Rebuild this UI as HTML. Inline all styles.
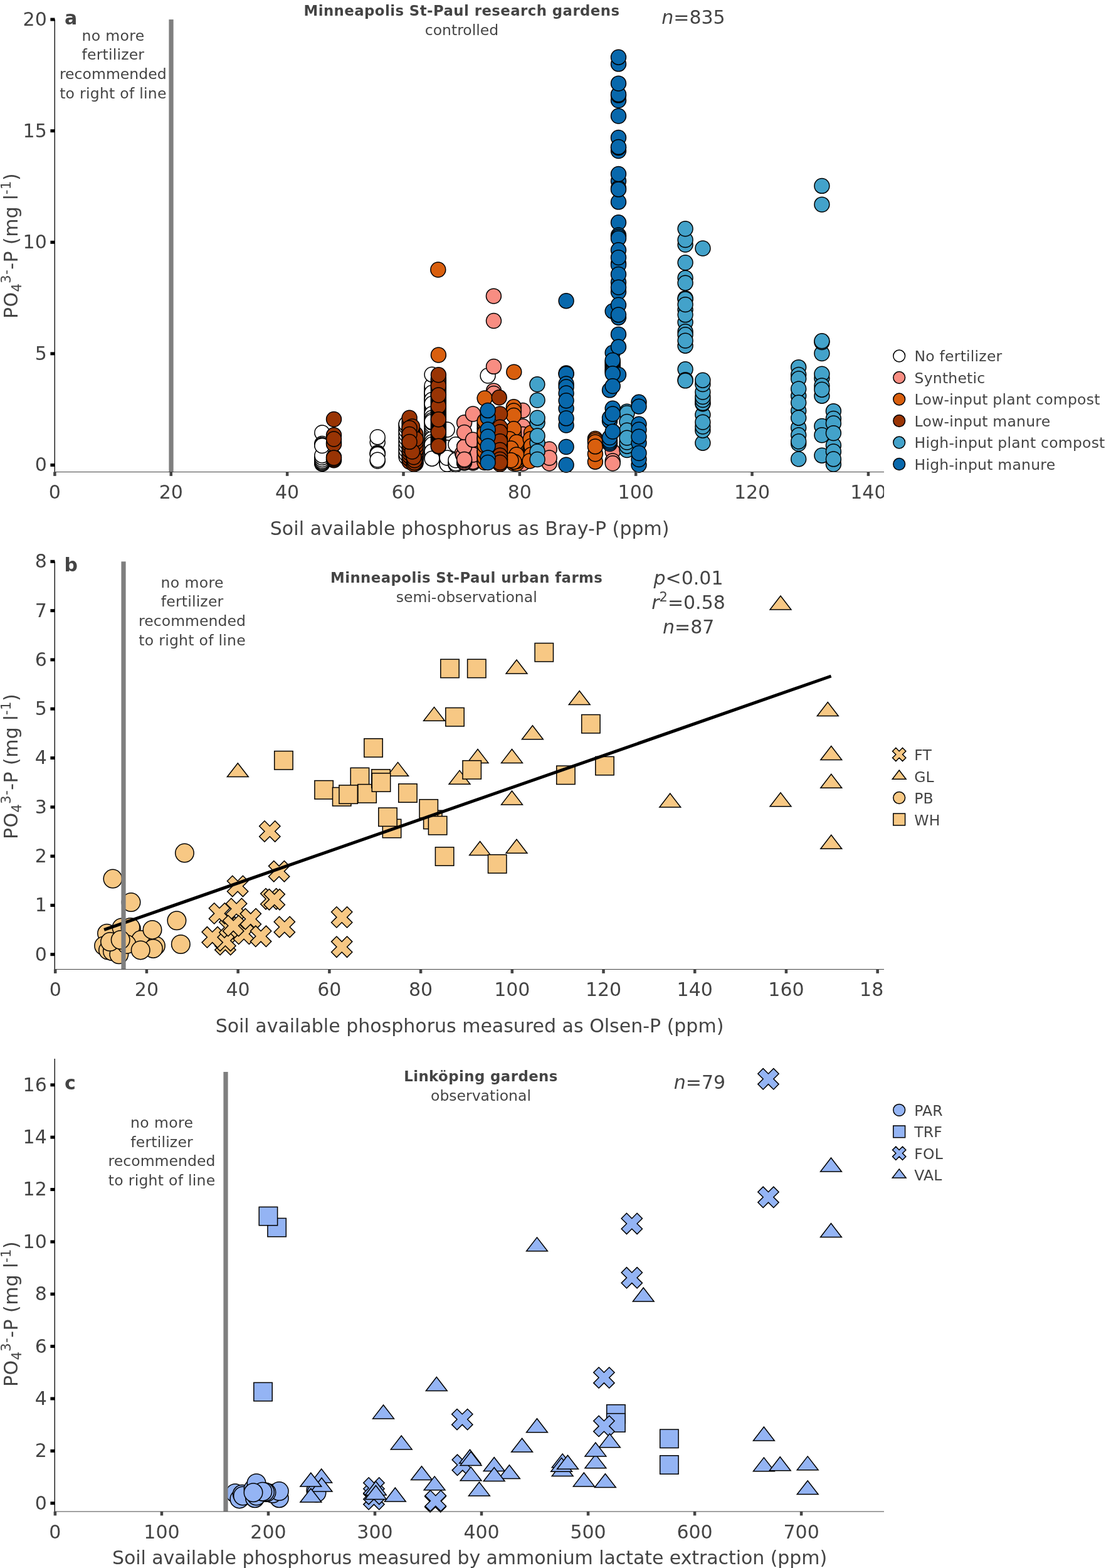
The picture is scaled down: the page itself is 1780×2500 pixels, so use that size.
<!DOCTYPE html>
<html lang="en"><head><meta charset="utf-8"><title>Soil available phosphorus vs leachate phosphate</title><style>html,body{margin:0;padding:0;background:#fff}body{width:1780px;height:2500px;overflow:hidden}</style></head><body>
<svg width="1780" height="2500" viewBox="0 0 1780 2500" font-family="'DejaVu Sans','Liberation Sans',sans-serif" style="display:block">
<rect width="1780" height="2500" fill="#fff"/>
<defs>
<clipPath id="clipa"><rect x="0" y="747.5" width="1410" height="80"/></clipPath>
<clipPath id="clipb"><rect x="0" y="1540.5" width="1410" height="80"/></clipPath>
<clipPath id="clipc"><rect x="0" y="2405" width="1410" height="80"/></clipPath>
</defs>
<g id="panel-a">
<g fill="#ffffff" stroke="#000" stroke-width="1.5">
<circle cx="689.0" cy="729.0" r="11.95"/>
<circle cx="689.0" cy="725.3" r="11.95"/>
<circle cx="689.0" cy="721.6" r="11.95"/>
<circle cx="689.0" cy="718.0" r="11.95"/>
<circle cx="689.0" cy="714.3" r="11.95"/>
<circle cx="689.0" cy="710.6" r="11.95"/>
<circle cx="689.0" cy="706.9" r="11.95"/>
<circle cx="689.0" cy="703.3" r="11.95"/>
<circle cx="689.0" cy="699.6" r="11.95"/>
<circle cx="689.0" cy="695.9" r="11.95"/>
<circle cx="689.0" cy="692.2" r="11.95"/>
<circle cx="689.0" cy="688.5" r="11.95"/>
<circle cx="689.0" cy="684.9" r="11.95"/>
<circle cx="689.0" cy="681.2" r="11.95"/>
<circle cx="689.0" cy="677.5" r="11.95"/>
<circle cx="689.0" cy="673.8" r="11.95"/>
<circle cx="689.0" cy="670.2" r="11.95"/>
<circle cx="689.0" cy="666.5" r="11.95"/>
<circle cx="689.0" cy="662.8" r="11.95"/>
<circle cx="689.0" cy="659.1" r="11.95"/>
<circle cx="689.0" cy="655.5" r="11.95"/>
<circle cx="689.0" cy="651.8" r="11.95"/>
<circle cx="689.0" cy="648.1" r="11.95"/>
<circle cx="689.0" cy="644.4" r="11.95"/>
<circle cx="689.0" cy="640.7" r="11.95"/>
<circle cx="689.0" cy="637.1" r="11.95"/>
<circle cx="689.0" cy="633.4" r="11.95"/>
<circle cx="689.0" cy="629.7" r="11.95"/>
<circle cx="689.0" cy="626.0" r="11.95"/>
<circle cx="689.0" cy="622.4" r="11.95"/>
<circle cx="689.0" cy="618.7" r="11.95"/>
<circle cx="689.0" cy="615.0" r="11.95"/>
<circle cx="648.2" cy="727.0" r="11.95"/>
<circle cx="648.2" cy="721.3" r="11.95"/>
<circle cx="648.2" cy="715.7" r="11.95"/>
<circle cx="648.2" cy="710.0" r="11.95"/>
<circle cx="648.2" cy="704.3" r="11.95"/>
<circle cx="648.2" cy="698.7" r="11.95"/>
<circle cx="648.2" cy="693.0" r="11.95"/>
<circle cx="648.2" cy="687.3" r="11.95"/>
<circle cx="648.2" cy="681.7" r="11.95"/>
<circle cx="648.2" cy="676.0" r="11.95"/>
<circle cx="713.1" cy="739.5" r="11.95"/>
<circle cx="713.1" cy="735.1" r="11.95"/>
<circle cx="713.1" cy="730.8" r="11.95"/>
<circle cx="713.1" cy="726.4" r="11.95"/>
<circle cx="713.1" cy="722.0" r="11.95"/>
<circle cx="726.9" cy="739.5" r="11.95"/>
<circle cx="726.9" cy="735.7" r="11.95"/>
<circle cx="726.9" cy="731.8" r="11.95"/>
<circle cx="726.9" cy="728.0" r="11.95"/>
<circle cx="513.8" cy="739.4" r="11.95"/>
<circle cx="513.8" cy="738.5" r="11.95"/>
<circle cx="513.8" cy="736.9" r="11.95"/>
<circle cx="513.8" cy="735.0" r="11.95"/>
<circle cx="513.8" cy="732.5" r="11.95"/>
<circle cx="513.8" cy="729.4" r="11.95"/>
<circle cx="513.8" cy="726.2" r="11.95"/>
<circle cx="513.8" cy="690.0" r="11.95"/>
<circle cx="513.8" cy="707.5" r="11.95"/>
<circle cx="513.8" cy="709.4" r="11.95"/>
<circle cx="513.8" cy="710.6" r="11.95"/>
<circle cx="602.2" cy="705.0" r="11.95"/>
<circle cx="602.2" cy="696.9" r="11.95"/>
<circle cx="602.2" cy="721.9" r="11.95"/>
<circle cx="602.2" cy="723.1" r="11.95"/>
<circle cx="602.2" cy="724.4" r="11.95"/>
<circle cx="602.2" cy="735.0" r="11.95"/>
<circle cx="602.2" cy="733.1" r="11.95"/>
<circle cx="648.1" cy="728.8" r="11.95"/>
<circle cx="648.1" cy="723.8" r="11.95"/>
<circle cx="648.1" cy="717.5" r="11.95"/>
<circle cx="648.1" cy="711.2" r="11.95"/>
<circle cx="648.1" cy="705.0" r="11.95"/>
<circle cx="648.1" cy="698.8" r="11.95"/>
<circle cx="648.1" cy="692.5" r="11.95"/>
<circle cx="648.1" cy="686.2" r="11.95"/>
<circle cx="648.1" cy="680.0" r="11.95"/>
<circle cx="648.1" cy="676.2" r="11.95"/>
<circle cx="689.0" cy="597.2" r="11.95"/>
<circle cx="689.0" cy="626.2" r="11.95"/>
<circle cx="689.0" cy="637.5" r="11.95"/>
<circle cx="689.0" cy="643.8" r="11.95"/>
<circle cx="689.0" cy="660.0" r="11.95"/>
<circle cx="689.0" cy="666.2" r="11.95"/>
<circle cx="689.0" cy="670.0" r="11.95"/>
<circle cx="689.0" cy="672.5" r="11.95"/>
<circle cx="689.0" cy="700.0" r="11.95"/>
<circle cx="689.0" cy="705.0" r="11.95"/>
<circle cx="689.0" cy="708.8" r="11.95"/>
<circle cx="689.0" cy="720.0" r="11.95"/>
<circle cx="689.0" cy="731.2" r="11.95"/>
<circle cx="713.1" cy="737.5" r="11.95"/>
<circle cx="713.1" cy="735.0" r="11.95"/>
<circle cx="713.1" cy="740.0" r="11.95"/>
<circle cx="713.1" cy="713.8" r="11.95"/>
<circle cx="713.1" cy="685.0" r="11.95"/>
<circle cx="713.1" cy="730.0" r="11.95"/>
<circle cx="726.9" cy="740.6" r="11.95"/>
<circle cx="726.9" cy="738.8" r="11.95"/>
<circle cx="726.9" cy="733.8" r="11.95"/>
<circle cx="726.9" cy="708.8" r="11.95"/>
<circle cx="778.1" cy="599.0" r="11.95"/>
</g>
<g fill="#f88d82" stroke="#000" stroke-width="1.5">
<circle cx="740.6" cy="738.0" r="11.95"/>
<circle cx="740.6" cy="733.7" r="11.95"/>
<circle cx="740.6" cy="729.3" r="11.95"/>
<circle cx="740.6" cy="725.0" r="11.95"/>
<circle cx="740.6" cy="720.7" r="11.95"/>
<circle cx="740.6" cy="716.3" r="11.95"/>
<circle cx="740.6" cy="712.0" r="11.95"/>
<circle cx="754.4" cy="738.0" r="11.95"/>
<circle cx="754.4" cy="732.5" r="11.95"/>
<circle cx="754.4" cy="727.0" r="11.95"/>
<circle cx="754.4" cy="721.5" r="11.95"/>
<circle cx="754.4" cy="716.0" r="11.95"/>
<circle cx="754.4" cy="736.2" r="11.95"/>
<circle cx="754.4" cy="725.0" r="11.95"/>
<circle cx="740.6" cy="736.9" r="11.95"/>
<circle cx="740.6" cy="734.4" r="11.95"/>
<circle cx="737.5" cy="722.5" r="11.95"/>
<circle cx="738.8" cy="726.2" r="11.95"/>
<circle cx="740.6" cy="712.5" r="11.95"/>
<circle cx="740.6" cy="673.8" r="11.95"/>
<circle cx="740.6" cy="689.4" r="11.95"/>
<circle cx="754.4" cy="701.2" r="11.95"/>
<circle cx="754.4" cy="660.0" r="11.95"/>
<circle cx="740.6" cy="732.5" r="11.95"/>
<circle cx="833.8" cy="654.4" r="11.95"/>
<circle cx="833.8" cy="680.0" r="11.95"/>
<circle cx="833.8" cy="692.5" r="11.95"/>
<circle cx="833.8" cy="717.5" r="11.95"/>
<circle cx="833.8" cy="738.8" r="11.95"/>
<circle cx="876.2" cy="716.2" r="11.95"/>
<circle cx="876.2" cy="738.8" r="11.95"/>
<circle cx="876.2" cy="730.0" r="11.95"/>
<circle cx="787.5" cy="511.5" r="11.95"/>
<circle cx="787.5" cy="584.4" r="11.95"/>
<circle cx="787.5" cy="623.1" r="11.95"/>
<circle cx="787.5" cy="627.5" r="11.95"/>
<circle cx="787.4" cy="472.1" r="11.95"/>
<circle cx="977.2" cy="720.0" r="11.95"/>
<circle cx="977.2" cy="735.0" r="11.95"/>
<circle cx="977.2" cy="738.8" r="11.95"/>
</g>
<g fill="#d95f0e" stroke="#000" stroke-width="1.5">
<circle cx="773.1" cy="736.0" r="11.95"/>
<circle cx="773.1" cy="731.4" r="11.95"/>
<circle cx="773.1" cy="726.8" r="11.95"/>
<circle cx="773.1" cy="722.2" r="11.95"/>
<circle cx="773.1" cy="717.5" r="11.95"/>
<circle cx="773.1" cy="712.9" r="11.95"/>
<circle cx="773.1" cy="708.3" r="11.95"/>
<circle cx="773.1" cy="703.7" r="11.95"/>
<circle cx="773.1" cy="699.1" r="11.95"/>
<circle cx="773.1" cy="694.5" r="11.95"/>
<circle cx="773.1" cy="689.8" r="11.95"/>
<circle cx="773.1" cy="685.2" r="11.95"/>
<circle cx="773.1" cy="680.6" r="11.95"/>
<circle cx="773.1" cy="676.0" r="11.95"/>
<circle cx="819.6" cy="739.0" r="11.95"/>
<circle cx="819.6" cy="735.9" r="11.95"/>
<circle cx="819.6" cy="732.9" r="11.95"/>
<circle cx="819.6" cy="729.8" r="11.95"/>
<circle cx="819.6" cy="726.8" r="11.95"/>
<circle cx="819.6" cy="723.7" r="11.95"/>
<circle cx="819.6" cy="720.6" r="11.95"/>
<circle cx="819.6" cy="717.6" r="11.95"/>
<circle cx="819.6" cy="714.5" r="11.95"/>
<circle cx="819.6" cy="711.4" r="11.95"/>
<circle cx="819.6" cy="708.4" r="11.95"/>
<circle cx="819.6" cy="705.3" r="11.95"/>
<circle cx="819.6" cy="702.2" r="11.95"/>
<circle cx="819.6" cy="699.2" r="11.95"/>
<circle cx="819.6" cy="696.1" r="11.95"/>
<circle cx="819.6" cy="693.1" r="11.95"/>
<circle cx="819.6" cy="690.0" r="11.95"/>
<circle cx="824.0" cy="739.0" r="11.95"/>
<circle cx="824.0" cy="735.2" r="11.95"/>
<circle cx="824.0" cy="731.4" r="11.95"/>
<circle cx="824.0" cy="727.7" r="11.95"/>
<circle cx="824.0" cy="723.9" r="11.95"/>
<circle cx="824.0" cy="720.1" r="11.95"/>
<circle cx="824.0" cy="716.3" r="11.95"/>
<circle cx="824.0" cy="712.6" r="11.95"/>
<circle cx="824.0" cy="708.8" r="11.95"/>
<circle cx="824.0" cy="705.0" r="11.95"/>
<circle cx="699.4" cy="566.0" r="11.95"/>
<circle cx="698.8" cy="430.0" r="11.95"/>
<circle cx="773.1" cy="737.5" r="11.95"/>
<circle cx="773.1" cy="730.0" r="11.95"/>
<circle cx="773.1" cy="720.0" r="11.95"/>
<circle cx="773.1" cy="710.0" r="11.95"/>
<circle cx="773.1" cy="700.0" r="11.95"/>
<circle cx="773.1" cy="690.0" r="11.95"/>
<circle cx="773.1" cy="671.2" r="11.95"/>
<circle cx="773.1" cy="635.0" r="11.95"/>
<circle cx="819.4" cy="648.8" r="11.95"/>
<circle cx="819.4" cy="655.0" r="11.95"/>
<circle cx="819.4" cy="662.5" r="11.95"/>
<circle cx="819.4" cy="683.8" r="11.95"/>
<circle cx="812.5" cy="700.0" r="11.95"/>
<circle cx="823.8" cy="705.0" r="11.95"/>
<circle cx="815.0" cy="715.0" r="11.95"/>
<circle cx="823.8" cy="725.0" r="11.95"/>
<circle cx="820.0" cy="736.2" r="11.95"/>
<circle cx="815.0" cy="733.8" r="11.95"/>
<circle cx="847.5" cy="690.0" r="11.95"/>
<circle cx="846.2" cy="700.0" r="11.95"/>
<circle cx="847.5" cy="711.2" r="11.95"/>
<circle cx="847.5" cy="725.0" r="11.95"/>
<circle cx="845.0" cy="735.0" r="11.95"/>
<circle cx="819.8" cy="593.1" r="11.95"/>
<circle cx="949.4" cy="736.2" r="11.95"/>
<circle cx="949.4" cy="723.8" r="11.95"/>
<circle cx="949.4" cy="699.4" r="11.95"/>
<circle cx="949.4" cy="701.9" r="11.95"/>
<circle cx="949.4" cy="705.0" r="11.95"/>
<circle cx="949.4" cy="711.9" r="11.95"/>
</g>
<g fill="#993404" stroke="#000" stroke-width="1.5">
<circle cx="699.4" cy="712.0" r="11.95"/>
<circle cx="699.4" cy="710.1" r="11.95"/>
<circle cx="699.4" cy="708.2" r="11.95"/>
<circle cx="699.4" cy="706.3" r="11.95"/>
<circle cx="699.4" cy="704.4" r="11.95"/>
<circle cx="699.4" cy="702.4" r="11.95"/>
<circle cx="699.4" cy="700.5" r="11.95"/>
<circle cx="699.4" cy="698.6" r="11.95"/>
<circle cx="699.4" cy="696.7" r="11.95"/>
<circle cx="699.4" cy="694.8" r="11.95"/>
<circle cx="699.4" cy="692.9" r="11.95"/>
<circle cx="699.4" cy="691.0" r="11.95"/>
<circle cx="699.4" cy="689.1" r="11.95"/>
<circle cx="699.4" cy="687.1" r="11.95"/>
<circle cx="699.4" cy="685.2" r="11.95"/>
<circle cx="699.4" cy="683.3" r="11.95"/>
<circle cx="699.4" cy="681.4" r="11.95"/>
<circle cx="699.4" cy="679.5" r="11.95"/>
<circle cx="699.4" cy="677.6" r="11.95"/>
<circle cx="699.4" cy="675.7" r="11.95"/>
<circle cx="699.4" cy="673.8" r="11.95"/>
<circle cx="699.4" cy="671.8" r="11.95"/>
<circle cx="699.4" cy="669.9" r="11.95"/>
<circle cx="699.4" cy="668.0" r="11.95"/>
<circle cx="699.4" cy="666.1" r="11.95"/>
<circle cx="699.4" cy="664.2" r="11.95"/>
<circle cx="699.4" cy="662.3" r="11.95"/>
<circle cx="699.4" cy="660.4" r="11.95"/>
<circle cx="699.4" cy="658.5" r="11.95"/>
<circle cx="699.4" cy="656.5" r="11.95"/>
<circle cx="699.4" cy="654.6" r="11.95"/>
<circle cx="699.4" cy="652.7" r="11.95"/>
<circle cx="699.4" cy="650.8" r="11.95"/>
<circle cx="699.4" cy="648.9" r="11.95"/>
<circle cx="699.4" cy="647.0" r="11.95"/>
<circle cx="699.4" cy="645.1" r="11.95"/>
<circle cx="699.4" cy="643.2" r="11.95"/>
<circle cx="699.4" cy="641.2" r="11.95"/>
<circle cx="699.4" cy="639.3" r="11.95"/>
<circle cx="699.4" cy="637.4" r="11.95"/>
<circle cx="699.4" cy="635.5" r="11.95"/>
<circle cx="699.4" cy="633.6" r="11.95"/>
<circle cx="699.4" cy="631.7" r="11.95"/>
<circle cx="699.4" cy="629.8" r="11.95"/>
<circle cx="699.4" cy="627.9" r="11.95"/>
<circle cx="699.4" cy="625.9" r="11.95"/>
<circle cx="699.4" cy="624.0" r="11.95"/>
<circle cx="699.4" cy="622.1" r="11.95"/>
<circle cx="699.4" cy="620.2" r="11.95"/>
<circle cx="699.4" cy="618.3" r="11.95"/>
<circle cx="699.4" cy="616.4" r="11.95"/>
<circle cx="699.4" cy="614.5" r="11.95"/>
<circle cx="699.4" cy="612.6" r="11.95"/>
<circle cx="699.4" cy="610.6" r="11.95"/>
<circle cx="699.4" cy="608.7" r="11.95"/>
<circle cx="699.4" cy="606.8" r="11.95"/>
<circle cx="699.4" cy="604.9" r="11.95"/>
<circle cx="699.4" cy="603.0" r="11.95"/>
<circle cx="662.8" cy="739.0" r="11.95"/>
<circle cx="662.8" cy="735.9" r="11.95"/>
<circle cx="662.8" cy="732.7" r="11.95"/>
<circle cx="662.8" cy="729.6" r="11.95"/>
<circle cx="662.8" cy="726.5" r="11.95"/>
<circle cx="662.8" cy="723.3" r="11.95"/>
<circle cx="662.8" cy="720.2" r="11.95"/>
<circle cx="662.8" cy="717.1" r="11.95"/>
<circle cx="662.8" cy="713.9" r="11.95"/>
<circle cx="662.8" cy="710.8" r="11.95"/>
<circle cx="662.8" cy="707.7" r="11.95"/>
<circle cx="662.8" cy="704.5" r="11.95"/>
<circle cx="662.8" cy="701.4" r="11.95"/>
<circle cx="662.8" cy="698.3" r="11.95"/>
<circle cx="662.8" cy="695.1" r="11.95"/>
<circle cx="662.8" cy="692.0" r="11.95"/>
<circle cx="657.5" cy="738.0" r="11.95"/>
<circle cx="657.5" cy="734.5" r="11.95"/>
<circle cx="657.5" cy="731.0" r="11.95"/>
<circle cx="657.5" cy="727.5" r="11.95"/>
<circle cx="657.5" cy="724.0" r="11.95"/>
<circle cx="657.5" cy="720.5" r="11.95"/>
<circle cx="657.5" cy="717.0" r="11.95"/>
<circle cx="657.5" cy="713.5" r="11.95"/>
<circle cx="657.5" cy="710.0" r="11.95"/>
<circle cx="657.5" cy="706.5" r="11.95"/>
<circle cx="657.5" cy="703.0" r="11.95"/>
<circle cx="657.5" cy="699.5" r="11.95"/>
<circle cx="657.5" cy="696.0" r="11.95"/>
<circle cx="657.5" cy="692.5" r="11.95"/>
<circle cx="657.5" cy="689.0" r="11.95"/>
<circle cx="657.5" cy="685.5" r="11.95"/>
<circle cx="657.5" cy="682.0" r="11.95"/>
<circle cx="653.1" cy="736.0" r="11.95"/>
<circle cx="653.1" cy="731.4" r="11.95"/>
<circle cx="653.1" cy="726.9" r="11.95"/>
<circle cx="653.1" cy="722.3" r="11.95"/>
<circle cx="653.1" cy="717.7" r="11.95"/>
<circle cx="653.1" cy="713.1" r="11.95"/>
<circle cx="653.1" cy="708.6" r="11.95"/>
<circle cx="653.1" cy="704.0" r="11.95"/>
<circle cx="653.1" cy="699.4" r="11.95"/>
<circle cx="653.1" cy="694.9" r="11.95"/>
<circle cx="653.1" cy="690.3" r="11.95"/>
<circle cx="653.1" cy="685.7" r="11.95"/>
<circle cx="653.1" cy="681.1" r="11.95"/>
<circle cx="653.1" cy="676.6" r="11.95"/>
<circle cx="653.1" cy="672.0" r="11.95"/>
<circle cx="797.5" cy="740.0" r="11.95"/>
<circle cx="797.5" cy="737.3" r="11.95"/>
<circle cx="797.5" cy="734.7" r="11.95"/>
<circle cx="797.5" cy="732.0" r="11.95"/>
<circle cx="797.5" cy="729.3" r="11.95"/>
<circle cx="797.5" cy="726.7" r="11.95"/>
<circle cx="797.5" cy="724.0" r="11.95"/>
<circle cx="797.5" cy="721.3" r="11.95"/>
<circle cx="797.5" cy="718.7" r="11.95"/>
<circle cx="797.5" cy="716.0" r="11.95"/>
<circle cx="797.5" cy="713.3" r="11.95"/>
<circle cx="797.5" cy="710.7" r="11.95"/>
<circle cx="797.5" cy="708.0" r="11.95"/>
<circle cx="797.5" cy="705.3" r="11.95"/>
<circle cx="797.5" cy="702.7" r="11.95"/>
<circle cx="797.5" cy="700.0" r="11.95"/>
<circle cx="532.5" cy="733.8" r="11.95"/>
<circle cx="532.5" cy="731.9" r="11.95"/>
<circle cx="532.5" cy="728.8" r="11.95"/>
<circle cx="532.5" cy="693.8" r="11.95"/>
<circle cx="532.5" cy="706.2" r="11.95"/>
<circle cx="532.5" cy="708.1" r="11.95"/>
<circle cx="532.5" cy="700.0" r="11.95"/>
<circle cx="532.5" cy="730.0" r="11.95"/>
<circle cx="532.5" cy="668.5" r="11.95"/>
<circle cx="663.1" cy="737.5" r="11.95"/>
<circle cx="663.1" cy="732.5" r="11.95"/>
<circle cx="663.1" cy="727.5" r="11.95"/>
<circle cx="663.1" cy="722.5" r="11.95"/>
<circle cx="663.1" cy="717.5" r="11.95"/>
<circle cx="663.1" cy="711.2" r="11.95"/>
<circle cx="663.1" cy="705.0" r="11.95"/>
<circle cx="663.1" cy="700.0" r="11.95"/>
<circle cx="660.0" cy="740.0" r="11.95"/>
<circle cx="661.2" cy="737.5" r="11.95"/>
<circle cx="661.2" cy="733.8" r="11.95"/>
<circle cx="660.0" cy="728.8" r="11.95"/>
<circle cx="657.5" cy="720.0" r="11.95"/>
<circle cx="653.1" cy="666.2" r="11.95"/>
<circle cx="657.5" cy="680.0" r="11.95"/>
<circle cx="653.1" cy="682.5" r="11.95"/>
<circle cx="653.1" cy="692.5" r="11.95"/>
<circle cx="653.1" cy="704.4" r="11.95"/>
<circle cx="699.4" cy="628.8" r="11.95"/>
<circle cx="699.4" cy="615.0" r="11.95"/>
<circle cx="699.4" cy="597.8" r="11.95"/>
<circle cx="699.4" cy="647.5" r="11.95"/>
<circle cx="699.4" cy="630.0" r="11.95"/>
<circle cx="699.4" cy="688.8" r="11.95"/>
<circle cx="699.4" cy="668.8" r="11.95"/>
<circle cx="699.4" cy="711.2" r="11.95"/>
<circle cx="796.2" cy="633.8" r="11.95"/>
<circle cx="797.5" cy="660.0" r="11.95"/>
<circle cx="797.5" cy="681.2" r="11.95"/>
<circle cx="797.5" cy="688.8" r="11.95"/>
<circle cx="797.5" cy="703.8" r="11.95"/>
<circle cx="797.5" cy="717.5" r="11.95"/>
<circle cx="797.5" cy="726.2" r="11.95"/>
<circle cx="797.5" cy="732.5" r="11.95"/>
<circle cx="797.5" cy="737.5" r="11.95"/>
</g>
<g fill="#43a2ca" stroke="#000" stroke-width="1.5">
<circle cx="857.1" cy="638.1" r="11.95"/>
<circle cx="857.1" cy="673.8" r="11.95"/>
<circle cx="857.1" cy="666.2" r="11.95"/>
<circle cx="857.1" cy="706.2" r="11.95"/>
<circle cx="857.1" cy="695.0" r="11.95"/>
<circle cx="857.1" cy="720.0" r="11.95"/>
<circle cx="857.1" cy="732.5" r="11.95"/>
<circle cx="856.9" cy="612.8" r="11.95"/>
<circle cx="1000.0" cy="717.5" r="11.95"/>
<circle cx="1000.0" cy="711.2" r="11.95"/>
<circle cx="1000.0" cy="705.0" r="11.95"/>
<circle cx="1000.0" cy="656.2" r="11.95"/>
<circle cx="1000.0" cy="658.8" r="11.95"/>
<circle cx="1000.0" cy="672.5" r="11.95"/>
<circle cx="1000.0" cy="686.2" r="11.95"/>
<circle cx="1000.0" cy="698.1" r="11.95"/>
<circle cx="1093.1" cy="390.0" r="11.95"/>
<circle cx="1093.1" cy="382.5" r="11.95"/>
<circle cx="1093.1" cy="364.8" r="11.95"/>
<circle cx="1093.1" cy="418.8" r="11.95"/>
<circle cx="1093.1" cy="443.1" r="11.95"/>
<circle cx="1093.1" cy="451.2" r="11.95"/>
<circle cx="1093.1" cy="475.6" r="11.95"/>
<circle cx="1093.1" cy="476.9" r="11.95"/>
<circle cx="1093.1" cy="513.8" r="11.95"/>
<circle cx="1093.1" cy="493.8" r="11.95"/>
<circle cx="1093.1" cy="501.9" r="11.95"/>
<circle cx="1093.1" cy="485.6" r="11.95"/>
<circle cx="1093.1" cy="551.2" r="11.95"/>
<circle cx="1093.1" cy="528.8" r="11.95"/>
<circle cx="1093.1" cy="533.8" r="11.95"/>
<circle cx="1093.1" cy="543.1" r="11.95"/>
<circle cx="1093.1" cy="588.8" r="11.95"/>
<circle cx="1093.1" cy="605.6" r="11.95"/>
<circle cx="1093.1" cy="606.9" r="11.95"/>
<circle cx="1121.0" cy="396.0" r="11.95"/>
<circle cx="1120.9" cy="706.2" r="11.95"/>
<circle cx="1120.9" cy="686.2" r="11.95"/>
<circle cx="1120.9" cy="680.0" r="11.95"/>
<circle cx="1120.9" cy="661.2" r="11.95"/>
<circle cx="1120.9" cy="673.1" r="11.95"/>
<circle cx="1120.9" cy="643.8" r="11.95"/>
<circle cx="1120.9" cy="642.5" r="11.95"/>
<circle cx="1120.9" cy="637.5" r="11.95"/>
<circle cx="1120.9" cy="632.5" r="11.95"/>
<circle cx="1120.9" cy="625.0" r="11.95"/>
<circle cx="1120.9" cy="612.5" r="11.95"/>
<circle cx="1120.9" cy="606.2" r="11.95"/>
<circle cx="1273.7" cy="585.6" r="11.95"/>
<circle cx="1273.7" cy="597.5" r="11.95"/>
<circle cx="1273.7" cy="603.8" r="11.95"/>
<circle cx="1273.7" cy="631.2" r="11.95"/>
<circle cx="1273.7" cy="620.0" r="11.95"/>
<circle cx="1273.7" cy="655.0" r="11.95"/>
<circle cx="1273.7" cy="641.9" r="11.95"/>
<circle cx="1273.7" cy="681.9" r="11.95"/>
<circle cx="1273.7" cy="666.2" r="11.95"/>
<circle cx="1273.7" cy="693.8" r="11.95"/>
<circle cx="1273.7" cy="707.5" r="11.95"/>
<circle cx="1273.7" cy="703.8" r="11.95"/>
<circle cx="1273.7" cy="731.9" r="11.95"/>
<circle cx="1310.9" cy="296.4" r="11.95"/>
<circle cx="1310.9" cy="326.1" r="11.95"/>
<circle cx="1310.9" cy="563.5" r="11.95"/>
<circle cx="1310.9" cy="545.6" r="11.95"/>
<circle cx="1310.9" cy="543.8" r="11.95"/>
<circle cx="1310.9" cy="603.1" r="11.95"/>
<circle cx="1310.9" cy="596.2" r="11.95"/>
<circle cx="1310.9" cy="615.0" r="11.95"/>
<circle cx="1310.9" cy="631.2" r="11.95"/>
<circle cx="1310.9" cy="621.2" r="11.95"/>
<circle cx="1310.9" cy="679.4" r="11.95"/>
<circle cx="1310.9" cy="693.8" r="11.95"/>
<circle cx="1310.9" cy="726.2" r="11.95"/>
<circle cx="1329.4" cy="655.6" r="11.95"/>
<circle cx="1329.4" cy="667.5" r="11.95"/>
<circle cx="1329.4" cy="675.0" r="11.95"/>
<circle cx="1329.4" cy="710.0" r="11.95"/>
<circle cx="1329.4" cy="690.6" r="11.95"/>
<circle cx="1329.4" cy="740.0" r="11.95"/>
<circle cx="1329.4" cy="720.0" r="11.95"/>
<circle cx="1329.4" cy="731.9" r="11.95"/>
</g>
<g fill="#0868ac" stroke="#000" stroke-width="1.5">
<circle cx="778.1" cy="665.6" r="11.95"/>
<circle cx="778.1" cy="654.4" r="11.95"/>
<circle cx="778.1" cy="685.0" r="11.95"/>
<circle cx="778.1" cy="696.2" r="11.95"/>
<circle cx="778.1" cy="711.2" r="11.95"/>
<circle cx="778.1" cy="730.0" r="11.95"/>
<circle cx="778.1" cy="737.5" r="11.95"/>
<circle cx="903.1" cy="479.7" r="11.95"/>
<circle cx="903.1" cy="595.0" r="11.95"/>
<circle cx="903.1" cy="596.2" r="11.95"/>
<circle cx="903.1" cy="612.0" r="11.95"/>
<circle cx="903.1" cy="616.9" r="11.95"/>
<circle cx="903.1" cy="627.0" r="11.95"/>
<circle cx="903.1" cy="651.2" r="11.95"/>
<circle cx="903.1" cy="638.8" r="11.95"/>
<circle cx="903.1" cy="678.1" r="11.95"/>
<circle cx="903.1" cy="666.9" r="11.95"/>
<circle cx="903.1" cy="712.5" r="11.95"/>
<circle cx="903.1" cy="741.2" r="11.95"/>
<circle cx="972.5" cy="707.5" r="11.95"/>
<circle cx="972.5" cy="705.0" r="11.95"/>
<circle cx="972.5" cy="702.5" r="11.95"/>
<circle cx="972.5" cy="697.5" r="11.95"/>
<circle cx="972.5" cy="671.2" r="11.95"/>
<circle cx="972.5" cy="666.2" r="11.95"/>
<circle cx="977.2" cy="651.2" r="11.95"/>
<circle cx="977.2" cy="660.0" r="11.95"/>
<circle cx="977.2" cy="688.1" r="11.95"/>
<circle cx="1019.0" cy="641.2" r="11.95"/>
<circle cx="1019.0" cy="648.1" r="11.95"/>
<circle cx="1019.0" cy="676.2" r="11.95"/>
<circle cx="1019.0" cy="685.0" r="11.95"/>
<circle cx="1019.0" cy="706.2" r="11.95"/>
<circle cx="1019.0" cy="696.2" r="11.95"/>
<circle cx="1019.0" cy="741.2" r="11.95"/>
<circle cx="1019.0" cy="732.5" r="11.95"/>
<circle cx="1019.0" cy="722.5" r="11.95"/>
<circle cx="986.5" cy="101.9" r="11.95"/>
<circle cx="986.5" cy="91.2" r="11.95"/>
<circle cx="986.5" cy="160.0" r="11.95"/>
<circle cx="986.5" cy="151.9" r="11.95"/>
<circle cx="986.5" cy="150.6" r="11.95"/>
<circle cx="986.5" cy="133.1" r="11.95"/>
<circle cx="986.5" cy="185.0" r="11.95"/>
<circle cx="986.5" cy="219.4" r="11.95"/>
<circle cx="986.5" cy="240.6" r="11.95"/>
<circle cx="986.5" cy="235.6" r="11.95"/>
<circle cx="986.5" cy="234.4" r="11.95"/>
<circle cx="986.5" cy="321.9" r="11.95"/>
<circle cx="986.5" cy="288.8" r="11.95"/>
<circle cx="986.5" cy="300.0" r="11.95"/>
<circle cx="986.5" cy="277.5" r="11.95"/>
<circle cx="986.5" cy="301.9" r="11.95"/>
<circle cx="986.5" cy="354.8" r="11.95"/>
<circle cx="986.5" cy="375.0" r="11.95"/>
<circle cx="986.5" cy="377.5" r="11.95"/>
<circle cx="986.5" cy="380.0" r="11.95"/>
<circle cx="986.5" cy="398.8" r="11.95"/>
<circle cx="986.5" cy="420.0" r="11.95"/>
<circle cx="986.5" cy="422.5" r="11.95"/>
<circle cx="986.5" cy="410.6" r="11.95"/>
<circle cx="986.5" cy="450.0" r="11.95"/>
<circle cx="986.5" cy="437.5" r="11.95"/>
<circle cx="986.5" cy="465.6" r="11.95"/>
<circle cx="986.5" cy="458.1" r="11.95"/>
<circle cx="977.2" cy="496.2" r="11.95"/>
<circle cx="986.5" cy="506.2" r="11.95"/>
<circle cx="986.5" cy="486.2" r="11.95"/>
<circle cx="986.5" cy="501.9" r="11.95"/>
<circle cx="986.5" cy="533.1" r="11.95"/>
<circle cx="977.2" cy="562.5" r="11.95"/>
<circle cx="986.5" cy="553.1" r="11.95"/>
<circle cx="977.2" cy="577.5" r="11.95"/>
<circle cx="977.2" cy="580.6" r="11.95"/>
<circle cx="977.2" cy="583.8" r="11.95"/>
<circle cx="977.2" cy="586.9" r="11.95"/>
<circle cx="977.2" cy="590.0" r="11.95"/>
<circle cx="977.2" cy="592.5" r="11.95"/>
<circle cx="977.2" cy="574.4" r="11.95"/>
<circle cx="986.5" cy="597.5" r="11.95"/>
<circle cx="977.2" cy="595.6" r="11.95"/>
<circle cx="972.5" cy="621.9" r="11.95"/>
<circle cx="977.2" cy="615.6" r="11.95"/>
</g>
<rect x="269.4" y="31.04" width="7.2" height="721.46" fill="#7f7f7f"/>
<rect x="86.6" y="31.04" width="1.3" height="721.96" fill="#000"/>
<rect x="87.25" y="752.0" width="1322.75" height="1" fill="#444"/>
<rect x="80.4" y="739.00" width="7" height="5" fill="#000"/>
<text x="74.75" y="751.45" font-size="30" text-anchor="end" fill="#444444">0</text>
<rect x="80.4" y="561.38" width="7" height="5" fill="#000"/>
<text x="74.75" y="573.84" font-size="30" text-anchor="end" fill="#444444">5</text>
<rect x="80.4" y="383.77" width="7" height="5" fill="#000"/>
<text x="74.75" y="396.22" font-size="30" text-anchor="end" fill="#444444">10</text>
<rect x="80.4" y="206.15" width="7" height="5" fill="#000"/>
<text x="74.75" y="218.6" font-size="30" text-anchor="end" fill="#444444">15</text>
<rect x="80.4" y="28.54" width="7" height="5" fill="#000"/>
<text x="74.75" y="40.99" font-size="30" text-anchor="end" fill="#444444">20</text>
<g clip-path="url(#clipa)">
<rect x="85.15" y="752.5" width="4.5" height="6.4" fill="#444"/>
<text x="87.4" y="795.1" font-size="30" text-anchor="middle" fill="#444444">0</text>
<rect x="270.51" y="752.5" width="4.5" height="6.4" fill="#444"/>
<text x="272.76" y="795.1" font-size="30" text-anchor="middle" fill="#444444">20</text>
<rect x="455.87" y="752.5" width="4.5" height="6.4" fill="#444"/>
<text x="458.12" y="795.1" font-size="30" text-anchor="middle" fill="#444444">40</text>
<rect x="641.23" y="752.5" width="4.5" height="6.4" fill="#444"/>
<text x="643.48" y="795.1" font-size="30" text-anchor="middle" fill="#444444">60</text>
<rect x="826.59" y="752.5" width="4.5" height="6.4" fill="#444"/>
<text x="828.84" y="795.1" font-size="30" text-anchor="middle" fill="#444444">80</text>
<rect x="1011.95" y="752.5" width="4.5" height="6.4" fill="#444"/>
<text x="1014.2" y="795.1" font-size="30" text-anchor="middle" fill="#444444">100</text>
<rect x="1197.31" y="752.5" width="4.5" height="6.4" fill="#444"/>
<text x="1199.56" y="795.1" font-size="30" text-anchor="middle" fill="#444444">120</text>
<rect x="1382.67" y="752.5" width="4.5" height="6.4" fill="#444"/>
<text x="1384.92" y="795.1" font-size="30" text-anchor="middle" fill="#444444">140</text>
</g>
</g>
<g id="panel-b">
<path d="M359.4,1514.4l8.32,8.32l8.32,-8.32l-8.32,-8.32l8.32,-8.32l-8.32,-8.32l-8.32,8.32l-8.32,-8.32l-8.32,8.32l8.32,8.32l-8.32,8.32l8.32,8.32Z" fill="#f7c884" stroke="#000" stroke-width="1.5"/>
<path d="M359.4,1508.0l8.32,8.32l8.32,-8.32l-8.32,-8.32l8.32,-8.32l-8.32,-8.32l-8.32,8.32l-8.32,-8.32l-8.32,8.32l8.32,8.32l-8.32,8.32l8.32,8.32Z" fill="#f7c884" stroke="#000" stroke-width="1.5"/>
<path d="M338.7,1502.6l8.32,8.32l8.32,-8.32l-8.32,-8.32l8.32,-8.32l-8.32,-8.32l-8.32,8.32l-8.32,-8.32l-8.32,8.32l8.32,8.32l-8.32,8.32l8.32,8.32Z" fill="#f7c884" stroke="#000" stroke-width="1.5"/>
<path d="M366.3,1486.8l8.32,8.32l8.32,-8.32l-8.32,-8.32l8.32,-8.32l-8.32,-8.32l-8.32,8.32l-8.32,-8.32l-8.32,8.32l8.32,8.32l-8.32,8.32l8.32,8.32Z" fill="#f7c884" stroke="#000" stroke-width="1.5"/>
<path d="M389.0,1497.2l8.32,8.32l8.32,-8.32l-8.32,-8.32l8.32,-8.32l-8.32,-8.32l-8.32,8.32l-8.32,-8.32l-8.32,8.32l8.32,8.32l-8.32,8.32l8.32,8.32Z" fill="#f7c884" stroke="#000" stroke-width="1.5"/>
<path d="M350.0,1464.7l8.32,8.32l8.32,-8.32l-8.32,-8.32l8.32,-8.32l-8.32,-8.32l-8.32,8.32l-8.32,-8.32l-8.32,8.32l8.32,8.32l-8.32,8.32l8.32,8.32Z" fill="#f7c884" stroke="#000" stroke-width="1.5"/>
<path d="M377.1,1457.3l8.32,8.32l8.32,-8.32l-8.32,-8.32l8.32,-8.32l-8.32,-8.32l-8.32,8.32l-8.32,-8.32l-8.32,8.32l8.32,8.32l-8.32,8.32l8.32,8.32Z" fill="#f7c884" stroke="#000" stroke-width="1.5"/>
<path d="M399.8,1473.5l8.32,8.32l8.32,-8.32l-8.32,-8.32l8.32,-8.32l-8.32,-8.32l-8.32,8.32l-8.32,-8.32l-8.32,8.32l8.32,8.32l-8.32,8.32l8.32,8.32Z" fill="#f7c884" stroke="#000" stroke-width="1.5"/>
<path d="M372.2,1484.4l8.32,8.32l8.32,-8.32l-8.32,-8.32l8.32,-8.32l-8.32,-8.32l-8.32,8.32l-8.32,-8.32l-8.32,8.32l8.32,8.32l-8.32,8.32l8.32,8.32Z" fill="#f7c884" stroke="#000" stroke-width="1.5"/>
<path d="M416.1,1501.1l8.32,8.32l8.32,-8.32l-8.32,-8.32l8.32,-8.32l-8.32,-8.32l-8.32,8.32l-8.32,-8.32l-8.32,8.32l8.32,8.32l-8.32,8.32l8.32,8.32Z" fill="#f7c884" stroke="#000" stroke-width="1.5"/>
<path d="M432.3,1441.5l8.32,8.32l8.32,-8.32l-8.32,-8.32l8.32,-8.32l-8.32,-8.32l-8.32,8.32l-8.32,-8.32l-8.32,8.32l8.32,8.32l-8.32,8.32l8.32,8.32Z" fill="#f7c884" stroke="#000" stroke-width="1.5"/>
<path d="M437.7,1442.5l8.32,8.32l8.32,-8.32l-8.32,-8.32l8.32,-8.32l-8.32,-8.32l-8.32,8.32l-8.32,-8.32l-8.32,8.32l8.32,8.32l-8.32,8.32l8.32,8.32Z" fill="#f7c884" stroke="#000" stroke-width="1.5"/>
<path d="M379.1,1421.3l8.32,8.32l8.32,-8.32l-8.32,-8.32l8.32,-8.32l-8.32,-8.32l-8.32,8.32l-8.32,-8.32l-8.32,8.32l8.32,8.32l-8.32,8.32l8.32,8.32Z" fill="#f7c884" stroke="#000" stroke-width="1.5"/>
<path d="M445.1,1397.5l8.32,8.32l8.32,-8.32l-8.32,-8.32l8.32,-8.32l-8.32,-8.32l-8.32,8.32l-8.32,-8.32l-8.32,8.32l8.32,8.32l-8.32,8.32l8.32,8.32Z" fill="#f7c884" stroke="#000" stroke-width="1.5"/>
<path d="M453.8,1486.3l8.32,8.32l8.32,-8.32l-8.32,-8.32l8.32,-8.32l-8.32,-8.32l-8.32,8.32l-8.32,-8.32l-8.32,8.32l8.32,8.32l-8.32,8.32l8.32,8.32Z" fill="#f7c884" stroke="#000" stroke-width="1.5"/>
<path d="M430.3,1333.8l8.32,8.32l8.32,-8.32l-8.32,-8.32l8.32,-8.32l-8.32,-8.32l-8.32,8.32l-8.32,-8.32l-8.32,8.32l8.32,8.32l-8.32,8.32l8.32,8.32Z" fill="#f7c884" stroke="#000" stroke-width="1.5"/>
<path d="M545.2,1470.7l8.32,8.32l8.32,-8.32l-8.32,-8.32l8.32,-8.32l-8.32,-8.32l-8.32,8.32l-8.32,-8.32l-8.32,8.32l8.32,8.32l-8.32,8.32l8.32,8.32Z" fill="#f7c884" stroke="#000" stroke-width="1.5"/>
<path d="M545.2,1518.0l8.32,8.32l8.32,-8.32l-8.32,-8.32l8.32,-8.32l-8.32,-8.32l-8.32,8.32l-8.32,-8.32l-8.32,8.32l8.32,8.32l-8.32,8.32l8.32,8.32Z" fill="#f7c884" stroke="#000" stroke-width="1.5"/>
<path d="M617.7,1237.3H651.5L634.6,1215.4Z" fill="#f7c884" stroke="#000" stroke-width="1.5" stroke-linejoin="miter"/>
<path d="M716.1,1250.3H749.9L733.0,1228.4Z" fill="#f7c884" stroke="#000" stroke-width="1.5" stroke-linejoin="miter"/>
<path d="M675.6,1149.3H709.4L692.5,1127.4Z" fill="#f7c884" stroke="#000" stroke-width="1.5" stroke-linejoin="miter"/>
<path d="M807.1,1074.0H840.9L824.0,1052.1Z" fill="#f7c884" stroke="#000" stroke-width="1.5" stroke-linejoin="miter"/>
<path d="M907.3,1123.5H941.1L924.2,1101.6Z" fill="#f7c884" stroke="#000" stroke-width="1.5" stroke-linejoin="miter"/>
<path d="M832.5,1178.7H866.3L849.4,1156.8Z" fill="#f7c884" stroke="#000" stroke-width="1.5" stroke-linejoin="miter"/>
<path d="M745.1,1216.4H778.9L762.0,1194.5Z" fill="#f7c884" stroke="#000" stroke-width="1.5" stroke-linejoin="miter"/>
<path d="M799.6,1216.4H833.4L816.5,1194.5Z" fill="#f7c884" stroke="#000" stroke-width="1.5" stroke-linejoin="miter"/>
<path d="M799.6,1282.9H833.4L816.5,1261.0Z" fill="#f7c884" stroke="#000" stroke-width="1.5" stroke-linejoin="miter"/>
<path d="M748.7,1363.4H782.5L765.6,1341.5Z" fill="#f7c884" stroke="#000" stroke-width="1.5" stroke-linejoin="miter"/>
<path d="M807.1,1360.2H840.9L824.0,1338.3Z" fill="#f7c884" stroke="#000" stroke-width="1.5" stroke-linejoin="miter"/>
<path d="M1228.1,972.0H1261.9L1245.0,950.1Z" fill="#f7c884" stroke="#000" stroke-width="1.5" stroke-linejoin="miter"/>
<path d="M1303.4,1141.5H1337.2L1320.3,1119.6Z" fill="#f7c884" stroke="#000" stroke-width="1.5" stroke-linejoin="miter"/>
<path d="M1308.9,1211.5H1342.7L1325.8,1189.6Z" fill="#f7c884" stroke="#000" stroke-width="1.5" stroke-linejoin="miter"/>
<path d="M1051.9,1287.0H1085.7L1068.8,1265.1Z" fill="#f7c884" stroke="#000" stroke-width="1.5" stroke-linejoin="miter"/>
<path d="M1228.1,1285.7H1261.9L1245.0,1263.8Z" fill="#f7c884" stroke="#000" stroke-width="1.5" stroke-linejoin="miter"/>
<path d="M1308.9,1256.2H1342.7L1325.8,1234.3Z" fill="#f7c884" stroke="#000" stroke-width="1.5" stroke-linejoin="miter"/>
<path d="M1308.9,1353.2H1342.7L1325.8,1331.3Z" fill="#f7c884" stroke="#000" stroke-width="1.5" stroke-linejoin="miter"/>
<path d="M362.4,1238.6H396.2L379.3,1216.7Z" fill="#f7c884" stroke="#000" stroke-width="1.5" stroke-linejoin="miter"/>
<circle cx="170.5" cy="1488.3" r="14.75" fill="#f7c884" stroke="#000" stroke-width="1.5"/>
<circle cx="194.0" cy="1479.0" r="14.75" fill="#f7c884" stroke="#000" stroke-width="1.5"/>
<circle cx="209.5" cy="1481.4" r="14.75" fill="#f7c884" stroke="#000" stroke-width="1.5"/>
<circle cx="208.0" cy="1478.4" r="14.75" fill="#f7c884" stroke="#000" stroke-width="1.5"/>
<circle cx="165.6" cy="1508.0" r="14.75" fill="#f7c884" stroke="#000" stroke-width="1.5"/>
<circle cx="172.5" cy="1515.0" r="14.75" fill="#f7c884" stroke="#000" stroke-width="1.5"/>
<circle cx="179.4" cy="1516.8" r="14.75" fill="#f7c884" stroke="#000" stroke-width="1.5"/>
<circle cx="189.8" cy="1521.8" r="14.75" fill="#f7c884" stroke="#000" stroke-width="1.5"/>
<circle cx="224.7" cy="1498.6" r="14.75" fill="#f7c884" stroke="#000" stroke-width="1.5"/>
<circle cx="201.9" cy="1505.5" r="14.75" fill="#f7c884" stroke="#000" stroke-width="1.5"/>
<circle cx="175.5" cy="1501.6" r="14.75" fill="#f7c884" stroke="#000" stroke-width="1.5"/>
<circle cx="192.2" cy="1498.6" r="14.75" fill="#f7c884" stroke="#000" stroke-width="1.5"/>
<circle cx="248.4" cy="1508.0" r="14.75" fill="#f7c884" stroke="#000" stroke-width="1.5"/>
<circle cx="243.0" cy="1482.4" r="14.75" fill="#f7c884" stroke="#000" stroke-width="1.5"/>
<circle cx="244.4" cy="1512.4" r="14.75" fill="#f7c884" stroke="#000" stroke-width="1.5"/>
<circle cx="224.2" cy="1514.9" r="14.75" fill="#f7c884" stroke="#000" stroke-width="1.5"/>
<circle cx="209.0" cy="1438.6" r="14.75" fill="#f7c884" stroke="#000" stroke-width="1.5"/>
<circle cx="281.9" cy="1467.8" r="14.75" fill="#f7c884" stroke="#000" stroke-width="1.5"/>
<circle cx="288.3" cy="1505.5" r="14.75" fill="#f7c884" stroke="#000" stroke-width="1.5"/>
<circle cx="179.9" cy="1401.1" r="14.75" fill="#f7c884" stroke="#000" stroke-width="1.5"/>
<circle cx="294.4" cy="1360.1" r="14.75" fill="#f7c884" stroke="#000" stroke-width="1.5"/>
<rect x="501.9" y="1244.6" width="29.4" height="29.4" fill="#f7c884" stroke="#000" stroke-width="1.5"/>
<rect x="530.5" y="1255.6" width="29.4" height="29.4" fill="#f7c884" stroke="#000" stroke-width="1.5"/>
<rect x="559.2" y="1224.3" width="29.4" height="29.4" fill="#f7c884" stroke="#000" stroke-width="1.5"/>
<rect x="540.9" y="1251.9" width="29.4" height="29.4" fill="#f7c884" stroke="#000" stroke-width="1.5"/>
<rect x="570.9" y="1250.6" width="29.4" height="29.4" fill="#f7c884" stroke="#000" stroke-width="1.5"/>
<rect x="592.8" y="1226.8" width="29.4" height="29.4" fill="#f7c884" stroke="#000" stroke-width="1.5"/>
<rect x="593.3" y="1232.8" width="29.4" height="29.4" fill="#f7c884" stroke="#000" stroke-width="1.5"/>
<rect x="580.8" y="1177.7" width="29.4" height="29.4" fill="#f7c884" stroke="#000" stroke-width="1.5"/>
<rect x="635.7" y="1249.8" width="29.4" height="29.4" fill="#f7c884" stroke="#000" stroke-width="1.5"/>
<rect x="610.3" y="1306.3" width="29.4" height="29.4" fill="#f7c884" stroke="#000" stroke-width="1.5"/>
<rect x="603.8" y="1288.0" width="29.4" height="29.4" fill="#f7c884" stroke="#000" stroke-width="1.5"/>
<rect x="675.6" y="1292.2" width="29.4" height="29.4" fill="#f7c884" stroke="#000" stroke-width="1.5"/>
<rect x="669.0" y="1274.7" width="29.4" height="29.4" fill="#f7c884" stroke="#000" stroke-width="1.5"/>
<rect x="683.4" y="1301.5" width="29.4" height="29.4" fill="#f7c884" stroke="#000" stroke-width="1.5"/>
<rect x="694.4" y="1350.8" width="29.4" height="29.4" fill="#f7c884" stroke="#000" stroke-width="1.5"/>
<rect x="738.0" y="1212.7" width="29.4" height="29.4" fill="#f7c884" stroke="#000" stroke-width="1.5"/>
<rect x="702.8" y="1051.2" width="29.4" height="29.4" fill="#f7c884" stroke="#000" stroke-width="1.5"/>
<rect x="745.6" y="1051.2" width="29.4" height="29.4" fill="#f7c884" stroke="#000" stroke-width="1.5"/>
<rect x="710.8" y="1128.5" width="29.4" height="29.4" fill="#f7c884" stroke="#000" stroke-width="1.5"/>
<rect x="853.1" y="1025.5" width="29.4" height="29.4" fill="#f7c884" stroke="#000" stroke-width="1.5"/>
<rect x="927.7" y="1139.5" width="29.4" height="29.4" fill="#f7c884" stroke="#000" stroke-width="1.5"/>
<rect x="887.7" y="1221.1" width="29.4" height="29.4" fill="#f7c884" stroke="#000" stroke-width="1.5"/>
<rect x="949.8" y="1206.4" width="29.4" height="29.4" fill="#f7c884" stroke="#000" stroke-width="1.5"/>
<rect x="778.5" y="1362.7" width="29.4" height="29.4" fill="#f7c884" stroke="#000" stroke-width="1.5"/>
<rect x="437.7" y="1197.6" width="29.4" height="29.4" fill="#f7c884" stroke="#000" stroke-width="1.5"/>
<line x1="166.1" y1="1482.4" x2="1325.6" y2="1078.0" stroke="#000" stroke-width="5"/>
<rect x="193.4" y="895.3" width="7.2" height="650.2" fill="#7f7f7f"/>
<rect x="86.6" y="895.3" width="1.3" height="650.70" fill="#000"/>
<rect x="87.25" y="1545.0" width="1322.75" height="1" fill="#444"/>
<rect x="80.4" y="1519.20" width="7" height="5" fill="#000"/>
<text x="74.75" y="1531.65" font-size="30" text-anchor="end" fill="#444444">0</text>
<rect x="80.4" y="1440.90" width="7" height="5" fill="#000"/>
<text x="74.75" y="1453.35" font-size="30" text-anchor="end" fill="#444444">1</text>
<rect x="80.4" y="1362.60" width="7" height="5" fill="#000"/>
<text x="74.75" y="1375.05" font-size="30" text-anchor="end" fill="#444444">2</text>
<rect x="80.4" y="1284.30" width="7" height="5" fill="#000"/>
<text x="74.75" y="1296.75" font-size="30" text-anchor="end" fill="#444444">3</text>
<rect x="80.4" y="1206.00" width="7" height="5" fill="#000"/>
<text x="74.75" y="1218.45" font-size="30" text-anchor="end" fill="#444444">4</text>
<rect x="80.4" y="1127.70" width="7" height="5" fill="#000"/>
<text x="74.75" y="1140.15" font-size="30" text-anchor="end" fill="#444444">5</text>
<rect x="80.4" y="1049.40" width="7" height="5" fill="#000"/>
<text x="74.75" y="1061.85" font-size="30" text-anchor="end" fill="#444444">6</text>
<rect x="80.4" y="971.10" width="7" height="5" fill="#000"/>
<text x="74.75" y="983.55" font-size="30" text-anchor="end" fill="#444444">7</text>
<rect x="80.4" y="892.80" width="7" height="5" fill="#000"/>
<text x="74.75" y="905.25" font-size="30" text-anchor="end" fill="#444444">8</text>
<g clip-path="url(#clipb)">
<rect x="85.95" y="1545.5" width="4.5" height="6.4" fill="#444"/>
<text x="88.2" y="1588.1" font-size="30" text-anchor="middle" fill="#444444">0</text>
<rect x="231.67" y="1545.5" width="4.5" height="6.4" fill="#444"/>
<text x="233.92" y="1588.1" font-size="30" text-anchor="middle" fill="#444444">20</text>
<rect x="377.39" y="1545.5" width="4.5" height="6.4" fill="#444"/>
<text x="379.64" y="1588.1" font-size="30" text-anchor="middle" fill="#444444">40</text>
<rect x="523.11" y="1545.5" width="4.5" height="6.4" fill="#444"/>
<text x="525.36" y="1588.1" font-size="30" text-anchor="middle" fill="#444444">60</text>
<rect x="668.83" y="1545.5" width="4.5" height="6.4" fill="#444"/>
<text x="671.08" y="1588.1" font-size="30" text-anchor="middle" fill="#444444">80</text>
<rect x="814.55" y="1545.5" width="4.5" height="6.4" fill="#444"/>
<text x="816.8" y="1588.1" font-size="30" text-anchor="middle" fill="#444444">100</text>
<rect x="960.27" y="1545.5" width="4.5" height="6.4" fill="#444"/>
<text x="962.52" y="1588.1" font-size="30" text-anchor="middle" fill="#444444">120</text>
<rect x="1105.99" y="1545.5" width="4.5" height="6.4" fill="#444"/>
<text x="1108.24" y="1588.1" font-size="30" text-anchor="middle" fill="#444444">140</text>
<rect x="1251.71" y="1545.5" width="4.5" height="6.4" fill="#444"/>
<text x="1253.96" y="1588.1" font-size="30" text-anchor="middle" fill="#444444">160</text>
<rect x="1397.43" y="1545.5" width="4.5" height="6.4" fill="#444"/>
<text x="1399.68" y="1588.1" font-size="30" text-anchor="middle" fill="#444444">180</text>
</g>
</g>
<g id="panel-c">
<circle cx="375.1" cy="2380.7" r="14.75" fill="#94b4f4" stroke="#000" stroke-width="1.5"/>
<circle cx="381.9" cy="2389.9" r="14.75" fill="#94b4f4" stroke="#000" stroke-width="1.5"/>
<circle cx="386.2" cy="2382.3" r="14.75" fill="#94b4f4" stroke="#000" stroke-width="1.5"/>
<circle cx="387.4" cy="2385.0" r="14.75" fill="#94b4f4" stroke="#000" stroke-width="1.5"/>
<circle cx="404.0" cy="2374.0" r="14.75" fill="#94b4f4" stroke="#000" stroke-width="1.5"/>
<circle cx="409.0" cy="2364.7" r="14.75" fill="#94b4f4" stroke="#000" stroke-width="1.5"/>
<circle cx="406.5" cy="2388.7" r="14.75" fill="#94b4f4" stroke="#000" stroke-width="1.5"/>
<circle cx="409.0" cy="2385.0" r="14.75" fill="#94b4f4" stroke="#000" stroke-width="1.5"/>
<circle cx="445.3" cy="2388.7" r="14.75" fill="#94b4f4" stroke="#000" stroke-width="1.5"/>
<circle cx="434.8" cy="2381.3" r="14.75" fill="#94b4f4" stroke="#000" stroke-width="1.5"/>
<circle cx="445.3" cy="2377.6" r="14.75" fill="#94b4f4" stroke="#000" stroke-width="1.5"/>
<circle cx="425.0" cy="2379.5" r="14.75" fill="#94b4f4" stroke="#000" stroke-width="1.5"/>
<circle cx="422.5" cy="2378.8" r="14.75" fill="#94b4f4" stroke="#000" stroke-width="1.5"/>
<circle cx="418.8" cy="2378.2" r="14.75" fill="#94b4f4" stroke="#000" stroke-width="1.5"/>
<circle cx="404.0" cy="2379.8" r="14.75" fill="#94b4f4" stroke="#000" stroke-width="1.5"/>
<circle cx="503.8" cy="2376.4" r="14.75" fill="#94b4f4" stroke="#000" stroke-width="1.5"/>
<circle cx="505.0" cy="2380.0" r="14.75" fill="#94b4f4" stroke="#000" stroke-width="1.5"/>
<rect x="404.8" y="2204.4" width="29.4" height="29.4" fill="#94b4f4" stroke="#000" stroke-width="1.5"/>
<rect x="426.9" y="1942.4" width="29.4" height="29.4" fill="#94b4f4" stroke="#000" stroke-width="1.5"/>
<rect x="413.2" y="1924.4" width="29.4" height="29.4" fill="#94b4f4" stroke="#000" stroke-width="1.5"/>
<rect x="967.7" y="2239.7" width="29.4" height="29.4" fill="#94b4f4" stroke="#000" stroke-width="1.5"/>
<rect x="967.7" y="2253.7" width="29.4" height="29.4" fill="#94b4f4" stroke="#000" stroke-width="1.5"/>
<rect x="1052.7" y="2279.1" width="29.4" height="29.4" fill="#94b4f4" stroke="#000" stroke-width="1.5"/>
<rect x="1052.7" y="2320.8" width="29.4" height="29.4" fill="#94b4f4" stroke="#000" stroke-width="1.5"/>
<path d="M737.3,2271.4l8.32,8.32l8.32,-8.32l-8.32,-8.32l8.32,-8.32l-8.32,-8.32l-8.32,8.32l-8.32,-8.32l-8.32,8.32l8.32,8.32l-8.32,8.32l8.32,8.32Z" fill="#94b4f4" stroke="#000" stroke-width="1.5"/>
<path d="M737.8,2344.1l8.32,8.32l8.32,-8.32l-8.32,-8.32l8.32,-8.32l-8.32,-8.32l-8.32,8.32l-8.32,-8.32l-8.32,8.32l8.32,8.32l-8.32,8.32l8.32,8.32Z" fill="#94b4f4" stroke="#000" stroke-width="1.5"/>
<path d="M596.4,2398.6l8.32,8.32l8.32,-8.32l-8.32,-8.32l8.32,-8.32l-8.32,-8.32l-8.32,8.32l-8.32,-8.32l-8.32,8.32l8.32,8.32l-8.32,8.32l8.32,8.32Z" fill="#94b4f4" stroke="#000" stroke-width="1.5"/>
<path d="M596.4,2390.3l8.32,8.32l8.32,-8.32l-8.32,-8.32l8.32,-8.32l-8.32,-8.32l-8.32,8.32l-8.32,-8.32l-8.32,8.32l8.32,8.32l-8.32,8.32l8.32,8.32Z" fill="#94b4f4" stroke="#000" stroke-width="1.5"/>
<path d="M596.4,2380.8l8.32,8.32l8.32,-8.32l-8.32,-8.32l8.32,-8.32l-8.32,-8.32l-8.32,8.32l-8.32,-8.32l-8.32,8.32l8.32,8.32l-8.32,8.32l8.32,8.32Z" fill="#94b4f4" stroke="#000" stroke-width="1.5"/>
<path d="M694.3,2402.7l8.32,8.32l8.32,-8.32l-8.32,-8.32l8.32,-8.32l-8.32,-8.32l-8.32,8.32l-8.32,-8.32l-8.32,8.32l8.32,8.32l-8.32,8.32l8.32,8.32Z" fill="#94b4f4" stroke="#000" stroke-width="1.5"/>
<path d="M694.6,2402.0l8.32,8.32l8.32,-8.32l-8.32,-8.32l8.32,-8.32l-8.32,-8.32l-8.32,8.32l-8.32,-8.32l-8.32,8.32l8.32,8.32l-8.32,8.32l8.32,8.32Z" fill="#94b4f4" stroke="#000" stroke-width="1.5"/>
<path d="M694.8,2401.3l8.32,8.32l8.32,-8.32l-8.32,-8.32l8.32,-8.32l-8.32,-8.32l-8.32,8.32l-8.32,-8.32l-8.32,8.32l8.32,8.32l-8.32,8.32l8.32,8.32Z" fill="#94b4f4" stroke="#000" stroke-width="1.5"/>
<path d="M963.4,2204.9l8.32,8.32l8.32,-8.32l-8.32,-8.32l8.32,-8.32l-8.32,-8.32l-8.32,8.32l-8.32,-8.32l-8.32,8.32l8.32,8.32l-8.32,8.32l8.32,8.32Z" fill="#94b4f4" stroke="#000" stroke-width="1.5"/>
<path d="M963.4,2282.2l8.32,8.32l8.32,-8.32l-8.32,-8.32l8.32,-8.32l-8.32,-8.32l-8.32,8.32l-8.32,-8.32l-8.32,8.32l8.32,8.32l-8.32,8.32l8.32,8.32Z" fill="#94b4f4" stroke="#000" stroke-width="1.5"/>
<path d="M1007.8,1959.3l8.32,8.32l8.32,-8.32l-8.32,-8.32l8.32,-8.32l-8.32,-8.32l-8.32,8.32l-8.32,-8.32l-8.32,8.32l8.32,8.32l-8.32,8.32l8.32,8.32Z" fill="#94b4f4" stroke="#000" stroke-width="1.5"/>
<path d="M1007.8,2045.6l8.32,8.32l8.32,-8.32l-8.32,-8.32l8.32,-8.32l-8.32,-8.32l-8.32,8.32l-8.32,-8.32l-8.32,8.32l8.32,8.32l-8.32,8.32l8.32,8.32Z" fill="#94b4f4" stroke="#000" stroke-width="1.5"/>
<path d="M1225.5,1728.6l8.32,8.32l8.32,-8.32l-8.32,-8.32l8.32,-8.32l-8.32,-8.32l-8.32,8.32l-8.32,-8.32l-8.32,8.32l8.32,8.32l-8.32,8.32l8.32,8.32Z" fill="#94b4f4" stroke="#000" stroke-width="1.5"/>
<path d="M1225.5,1917.1l8.32,8.32l8.32,-8.32l-8.32,-8.32l8.32,-8.32l-8.32,-8.32l-8.32,8.32l-8.32,-8.32l-8.32,8.32l8.32,8.32l-8.32,8.32l8.32,8.32Z" fill="#94b4f4" stroke="#000" stroke-width="1.5"/>
<path d="M495.8,2363.9H529.6L512.7,2342.0Z" fill="#94b4f4" stroke="#000" stroke-width="1.5" stroke-linejoin="miter"/>
<path d="M496.1,2378.1H529.9L513.0,2356.2Z" fill="#94b4f4" stroke="#000" stroke-width="1.5" stroke-linejoin="miter"/>
<path d="M478.9,2370.1H512.7L495.8,2348.2Z" fill="#94b4f4" stroke="#000" stroke-width="1.5" stroke-linejoin="miter"/>
<path d="M478.9,2395.1H512.7L495.8,2373.2Z" fill="#94b4f4" stroke="#000" stroke-width="1.5" stroke-linejoin="miter"/>
<path d="M679.4,2217.5H713.2L696.3,2195.6Z" fill="#94b4f4" stroke="#000" stroke-width="1.5" stroke-linejoin="miter"/>
<path d="M594.6,2261.9H628.4L611.5,2240.0Z" fill="#94b4f4" stroke="#000" stroke-width="1.5" stroke-linejoin="miter"/>
<path d="M623.3,2310.9H657.1L640.2,2289.0Z" fill="#94b4f4" stroke="#000" stroke-width="1.5" stroke-linejoin="miter"/>
<path d="M655.6,2359.6H689.4L672.5,2337.7Z" fill="#94b4f4" stroke="#000" stroke-width="1.5" stroke-linejoin="miter"/>
<path d="M676.2,2375.8H710.0L693.1,2353.9Z" fill="#94b4f4" stroke="#000" stroke-width="1.5" stroke-linejoin="miter"/>
<path d="M613.4,2394.0H647.2L630.3,2372.1Z" fill="#94b4f4" stroke="#000" stroke-width="1.5" stroke-linejoin="miter"/>
<path d="M582.5,2383.7H616.3L599.4,2361.8Z" fill="#94b4f4" stroke="#000" stroke-width="1.5" stroke-linejoin="miter"/>
<path d="M582.5,2390.4H616.3L599.4,2368.5Z" fill="#94b4f4" stroke="#000" stroke-width="1.5" stroke-linejoin="miter"/>
<path d="M732.6,2333.1H766.4L749.5,2311.2Z" fill="#94b4f4" stroke="#000" stroke-width="1.5" stroke-linejoin="miter"/>
<path d="M734.2,2336.4H768.0L751.1,2314.5Z" fill="#94b4f4" stroke="#000" stroke-width="1.5" stroke-linejoin="miter"/>
<path d="M734.2,2360.8H768.0L751.1,2338.9Z" fill="#94b4f4" stroke="#000" stroke-width="1.5" stroke-linejoin="miter"/>
<path d="M747.5,2384.9H781.3L764.4,2363.0Z" fill="#94b4f4" stroke="#000" stroke-width="1.5" stroke-linejoin="miter"/>
<path d="M771.3,2345.5H805.1L788.2,2323.6Z" fill="#94b4f4" stroke="#000" stroke-width="1.5" stroke-linejoin="miter"/>
<path d="M795.5,2357.6H829.3L812.4,2335.7Z" fill="#94b4f4" stroke="#000" stroke-width="1.5" stroke-linejoin="miter"/>
<path d="M771.3,2361.6H805.1L788.2,2339.7Z" fill="#94b4f4" stroke="#000" stroke-width="1.5" stroke-linejoin="miter"/>
<path d="M815.7,2315.1H849.5L832.6,2293.2Z" fill="#94b4f4" stroke="#000" stroke-width="1.5" stroke-linejoin="miter"/>
<path d="M839.6,2283.7H873.4L856.5,2261.8Z" fill="#94b4f4" stroke="#000" stroke-width="1.5" stroke-linejoin="miter"/>
<path d="M880.3,2353.5H914.1L897.2,2331.6Z" fill="#94b4f4" stroke="#000" stroke-width="1.5" stroke-linejoin="miter"/>
<path d="M880.3,2339.8H914.1L897.2,2317.9Z" fill="#94b4f4" stroke="#000" stroke-width="1.5" stroke-linejoin="miter"/>
<path d="M878.7,2346.3H912.5L895.6,2324.4Z" fill="#94b4f4" stroke="#000" stroke-width="1.5" stroke-linejoin="miter"/>
<path d="M888.6,2342.2H922.4L905.5,2320.3Z" fill="#94b4f4" stroke="#000" stroke-width="1.5" stroke-linejoin="miter"/>
<path d="M914.4,2369.9H948.2L931.3,2348.0Z" fill="#94b4f4" stroke="#000" stroke-width="1.5" stroke-linejoin="miter"/>
<path d="M948.5,2371.6H982.3L965.4,2349.7Z" fill="#94b4f4" stroke="#000" stroke-width="1.5" stroke-linejoin="miter"/>
<path d="M955.5,2307.8H989.3L972.4,2285.9Z" fill="#94b4f4" stroke="#000" stroke-width="1.5" stroke-linejoin="miter"/>
<path d="M933.0,2340.8H966.8L949.9,2318.9Z" fill="#94b4f4" stroke="#000" stroke-width="1.5" stroke-linejoin="miter"/>
<path d="M933.0,2321.9H966.8L949.9,2300.0Z" fill="#94b4f4" stroke="#000" stroke-width="1.5" stroke-linejoin="miter"/>
<path d="M1201.5,2297.0H1235.3L1218.4,2275.1Z" fill="#94b4f4" stroke="#000" stroke-width="1.5" stroke-linejoin="miter"/>
<path d="M1201.5,2345.8H1235.3L1218.4,2323.9Z" fill="#94b4f4" stroke="#000" stroke-width="1.5" stroke-linejoin="miter"/>
<path d="M1227.3,2344.7H1261.1L1244.2,2322.8Z" fill="#94b4f4" stroke="#000" stroke-width="1.5" stroke-linejoin="miter"/>
<path d="M1271.3,2343.8H1305.1L1288.2,2321.9Z" fill="#94b4f4" stroke="#000" stroke-width="1.5" stroke-linejoin="miter"/>
<path d="M1271.3,2382.6H1305.1L1288.2,2360.7Z" fill="#94b4f4" stroke="#000" stroke-width="1.5" stroke-linejoin="miter"/>
<path d="M839.6,1994.8H873.4L856.5,1972.9Z" fill="#94b4f4" stroke="#000" stroke-width="1.5" stroke-linejoin="miter"/>
<path d="M1009.4,2075.0H1043.1L1026.2,2053.1Z" fill="#94b4f4" stroke="#000" stroke-width="1.5" stroke-linejoin="miter"/>
<path d="M1308.6,1868.0H1342.4L1325.5,1846.1Z" fill="#94b4f4" stroke="#000" stroke-width="1.5" stroke-linejoin="miter"/>
<path d="M1308.6,1972.5H1342.4L1325.5,1950.6Z" fill="#94b4f4" stroke="#000" stroke-width="1.5" stroke-linejoin="miter"/>
<rect x="356.4" y="1709" width="7.2" height="701" fill="#7f7f7f"/>
<rect x="86.6" y="1688.0" width="1.3" height="722.50" fill="#000"/>
<rect x="87.25" y="2409.5" width="1322.75" height="1" fill="#444"/>
<rect x="80.4" y="2394.20" width="7" height="5" fill="#000"/>
<text x="74.75" y="2406.65" font-size="30" text-anchor="end" fill="#444444">0</text>
<rect x="80.4" y="2310.84" width="7" height="5" fill="#000"/>
<text x="74.75" y="2323.29" font-size="30" text-anchor="end" fill="#444444">2</text>
<rect x="80.4" y="2227.48" width="7" height="5" fill="#000"/>
<text x="74.75" y="2239.93" font-size="30" text-anchor="end" fill="#444444">4</text>
<rect x="80.4" y="2144.12" width="7" height="5" fill="#000"/>
<text x="74.75" y="2156.57" font-size="30" text-anchor="end" fill="#444444">6</text>
<rect x="80.4" y="2060.76" width="7" height="5" fill="#000"/>
<text x="74.75" y="2073.21" font-size="30" text-anchor="end" fill="#444444">8</text>
<rect x="80.4" y="1977.40" width="7" height="5" fill="#000"/>
<text x="74.75" y="1989.85" font-size="30" text-anchor="end" fill="#444444">10</text>
<rect x="80.4" y="1894.04" width="7" height="5" fill="#000"/>
<text x="74.75" y="1906.49" font-size="30" text-anchor="end" fill="#444444">12</text>
<rect x="80.4" y="1810.68" width="7" height="5" fill="#000"/>
<text x="74.75" y="1823.13" font-size="30" text-anchor="end" fill="#444444">14</text>
<rect x="80.4" y="1727.32" width="7" height="5" fill="#000"/>
<text x="74.75" y="1739.77" font-size="30" text-anchor="end" fill="#444444">16</text>
<g clip-path="url(#clipc)">
<rect x="85.65" y="2410" width="4.5" height="6.4" fill="#444"/>
<text x="87.9" y="2452.6" font-size="30" text-anchor="middle" fill="#444444">0</text>
<rect x="255.68" y="2410" width="4.5" height="6.4" fill="#444"/>
<text x="257.93" y="2452.6" font-size="30" text-anchor="middle" fill="#444444">100</text>
<rect x="425.71" y="2410" width="4.5" height="6.4" fill="#444"/>
<text x="427.96" y="2452.6" font-size="30" text-anchor="middle" fill="#444444">200</text>
<rect x="595.74" y="2410" width="4.5" height="6.4" fill="#444"/>
<text x="597.99" y="2452.6" font-size="30" text-anchor="middle" fill="#444444">300</text>
<rect x="765.77" y="2410" width="4.5" height="6.4" fill="#444"/>
<text x="768.02" y="2452.6" font-size="30" text-anchor="middle" fill="#444444">400</text>
<rect x="935.80" y="2410" width="4.5" height="6.4" fill="#444"/>
<text x="938.05" y="2452.6" font-size="30" text-anchor="middle" fill="#444444">500</text>
<rect x="1105.83" y="2410" width="4.5" height="6.4" fill="#444"/>
<text x="1108.08" y="2452.6" font-size="30" text-anchor="middle" fill="#444444">600</text>
<rect x="1275.86" y="2410" width="4.5" height="6.4" fill="#444"/>
<text x="1278.11" y="2452.6" font-size="30" text-anchor="middle" fill="#444444">700</text>
</g>
</g>
<text transform="translate(28,392) rotate(-90)" font-size="30" letter-spacing="0.45" text-anchor="middle" fill="#444444">PO<tspan font-size="21" dy="6">4</tspan><tspan font-size="21" dy="-17">3-</tspan><tspan dy="11">-P (mg l</tspan><tspan font-size="21" dy="-11">-1</tspan><tspan dy="11">)</tspan></text>
<text transform="translate(28,1222) rotate(-90)" font-size="30" letter-spacing="0.45" text-anchor="middle" fill="#444444">PO<tspan font-size="21" dy="6">4</tspan><tspan font-size="21" dy="-17">3-</tspan><tspan dy="11">-P (mg l</tspan><tspan font-size="21" dy="-11">-1</tspan><tspan dy="11">)</tspan></text>
<text transform="translate(28,2095) rotate(-90)" font-size="30" letter-spacing="0.45" text-anchor="middle" fill="#444444">PO<tspan font-size="21" dy="6">4</tspan><tspan font-size="21" dy="-17">3-</tspan><tspan dy="11">-P (mg l</tspan><tspan font-size="21" dy="-11">-1</tspan><tspan dy="11">)</tspan></text>
<text x="103.1" y="39.0" font-size="30" text-anchor="start" fill="#444444" font-weight="bold">a</text>
<text x="102.6" y="911.2" font-size="30" text-anchor="start" fill="#444444" font-weight="bold">b</text>
<text x="103.0" y="1736.8" font-size="30" text-anchor="start" fill="#444444" font-weight="bold">c</text>
<text x="180.485" y="64.6" font-size="23.5" text-anchor="middle" fill="#444444" letter-spacing="0.37">no more</text>
<text x="180.4" y="95.45" font-size="23.5" text-anchor="middle" fill="#444444" letter-spacing="0.2">fertilizer</text>
<text x="180.32500000000002" y="126.3" font-size="23.5" text-anchor="middle" fill="#444444" letter-spacing="0.05">recommended</text>
<text x="180.435" y="157.15" font-size="23.5" text-anchor="middle" fill="#444444" letter-spacing="0.27">to right of line</text>
<text x="306.685" y="936.6" font-size="23.5" text-anchor="middle" fill="#444444" letter-spacing="0.37">no more</text>
<text x="306.6" y="967.45" font-size="23.5" text-anchor="middle" fill="#444444" letter-spacing="0.2">fertilizer</text>
<text x="306.525" y="998.3" font-size="23.5" text-anchor="middle" fill="#444444" letter-spacing="0.05">recommended</text>
<text x="306.635" y="1029.15" font-size="23.5" text-anchor="middle" fill="#444444" letter-spacing="0.27">to right of line</text>
<text x="258.185" y="1797.7" font-size="23.5" text-anchor="middle" fill="#444444" letter-spacing="0.37">no more</text>
<text x="258.1" y="1828.55" font-size="23.5" text-anchor="middle" fill="#444444" letter-spacing="0.2">fertilizer</text>
<text x="258.025" y="1859.4" font-size="23.5" text-anchor="middle" fill="#444444" letter-spacing="0.05">recommended</text>
<text x="258.135" y="1890.25" font-size="23.5" text-anchor="middle" fill="#444444" letter-spacing="0.27">to right of line</text>
<text x="736.5" y="25" font-size="22.8" text-anchor="middle" fill="#444444" font-weight="bold" letter-spacing="0.45">Minneapolis St-Paul research gardens</text>
<text x="736.5" y="55.5" font-size="23.5" text-anchor="middle" fill="#444444">controlled</text>
<text x="744.2" y="928.5" font-size="22.8" text-anchor="middle" fill="#444444" font-weight="bold" letter-spacing="0.45">Minneapolis St-Paul urban farms</text>
<text x="744.2" y="959.5" font-size="23.5" text-anchor="middle" fill="#444444">semi-observational</text>
<text x="767" y="1724" font-size="22.8" text-anchor="middle" fill="#444444" font-weight="bold" letter-spacing="0.45">Linköping gardens</text>
<text x="767" y="1754.5" font-size="23.5" text-anchor="middle" fill="#444444">observational</text>
<text x="1106" y="38" font-size="30" text-anchor="middle" fill="#444444"><tspan font-style="italic">n</tspan>=835</text>
<text x="1098" y="932" font-size="30" text-anchor="middle" fill="#444444"><tspan font-style="italic">p</tspan>&lt;0.01</text>
<text x="1098" y="971" font-size="30" text-anchor="middle" fill="#444444"><tspan font-style="italic">r</tspan><tspan font-size="21" dy="-12.5">2</tspan><tspan dy="12.5">=0.58</tspan></text>
<text x="1098.2" y="1010" font-size="30" text-anchor="middle" fill="#444444"><tspan font-style="italic">n</tspan>=87</text>
<text x="1116" y="1736" font-size="30" text-anchor="middle" fill="#444444"><tspan font-style="italic">n</tspan>=79</text>
<text x="749.2" y="853" font-size="30" text-anchor="middle" fill="#444444" letter-spacing="0.05">Soil available phosphorus as Bray-P (ppm)</text>
<text x="749" y="1646" font-size="30" text-anchor="middle" fill="#444444">Soil available phosphorus measured as Olsen-P (ppm)</text>
<text x="749" y="2493.5" font-size="30" text-anchor="middle" fill="#444444" letter-spacing="-0.07">Soil available phosphorus measured by ammonium lactate extraction (ppm)</text>
<circle cx="1434.2" cy="567.5" r="9.4" fill="#ffffff" stroke="#000" stroke-width="1.5"/>
<text x="1458.5" y="576.1" font-size="23.5" text-anchor="start" fill="#444444" letter-spacing="0.22">No fertilizer</text>
<circle cx="1434.2" cy="602.0" r="9.4" fill="#f88d82" stroke="#000" stroke-width="1.5"/>
<text x="1458.5" y="610.6" font-size="23.5" text-anchor="start" fill="#444444" letter-spacing="0.22">Synthetic</text>
<circle cx="1434.2" cy="636.5" r="9.4" fill="#d95f0e" stroke="#000" stroke-width="1.5"/>
<text x="1458.5" y="645.1" font-size="23.5" text-anchor="start" fill="#444444" letter-spacing="0.22">Low-input plant compost</text>
<circle cx="1434.2" cy="671.0" r="9.4" fill="#993404" stroke="#000" stroke-width="1.5"/>
<text x="1458.5" y="679.6" font-size="23.5" text-anchor="start" fill="#444444" letter-spacing="0.22">Low-input manure</text>
<circle cx="1434.2" cy="705.5" r="9.4" fill="#43a2ca" stroke="#000" stroke-width="1.5"/>
<text x="1458.5" y="714.1" font-size="23.5" text-anchor="start" fill="#444444" letter-spacing="0.22">High-input plant compost</text>
<circle cx="1434.2" cy="740.0" r="9.4" fill="#0868ac" stroke="#000" stroke-width="1.5"/>
<text x="1458.5" y="748.6" font-size="23.5" text-anchor="start" fill="#444444" letter-spacing="0.22">High-input manure</text>
<path d="M1434.2,1208.3l5.32,5.32l5.32,-5.32l-5.32,-5.32l5.32,-5.32l-5.32,-5.32l-5.32,5.32l-5.32,-5.32l-5.32,5.32l5.32,5.32l-5.32,5.32l5.32,5.32Z" fill="#f7c884" stroke="#000" stroke-width="1.5"/>
<text x="1458.2" y="1212.1" font-size="23.5" text-anchor="start" fill="#444444" letter-spacing="0.22">FT</text>
<path d="M1423.3,1242.2H1445.1L1434.2,1228.1Z" fill="#f7c884" stroke="#000" stroke-width="1.5" stroke-linejoin="miter"/>
<text x="1458.2" y="1246.6" font-size="23.5" text-anchor="start" fill="#444444" letter-spacing="0.22">GL</text>
<circle cx="1434.2" cy="1272.0" r="9.4" fill="#f7c884" stroke="#000" stroke-width="1.5"/>
<text x="1458.2" y="1281.1" font-size="23.5" text-anchor="start" fill="#444444" letter-spacing="0.22">PB</text>
<rect x="1424.8" y="1297.1" width="18.8" height="18.8" fill="#f7c884" stroke="#000" stroke-width="1.5"/>
<text x="1458.2" y="1315.6" font-size="23.5" text-anchor="start" fill="#444444" letter-spacing="0.22">WH</text>
<circle cx="1434.2" cy="1769.8" r="9.4" fill="#94b4f4" stroke="#000" stroke-width="1.5"/>
<text x="1458.2" y="1778.9" font-size="23.5" text-anchor="start" fill="#444444" letter-spacing="0.22">PAR</text>
<rect x="1424.8" y="1794.9" width="18.8" height="18.8" fill="#94b4f4" stroke="#000" stroke-width="1.5"/>
<text x="1458.2" y="1813.4" font-size="23.5" text-anchor="start" fill="#444444" letter-spacing="0.22">TRF</text>
<path d="M1434.2,1844.1l5.32,5.32l5.32,-5.32l-5.32,-5.32l5.32,-5.32l-5.32,-5.32l-5.32,5.32l-5.32,-5.32l-5.32,5.32l5.32,5.32l-5.32,5.32l5.32,5.32Z" fill="#94b4f4" stroke="#000" stroke-width="1.5"/>
<text x="1458.2" y="1847.9" font-size="23.5" text-anchor="start" fill="#444444" letter-spacing="0.22">FOL</text>
<path d="M1423.3,1878.0H1445.1L1434.2,1863.9Z" fill="#94b4f4" stroke="#000" stroke-width="1.5" stroke-linejoin="miter"/>
<text x="1458.2" y="1882.4" font-size="23.5" text-anchor="start" fill="#444444" letter-spacing="0.22">VAL</text>
</svg>
</body></html>
